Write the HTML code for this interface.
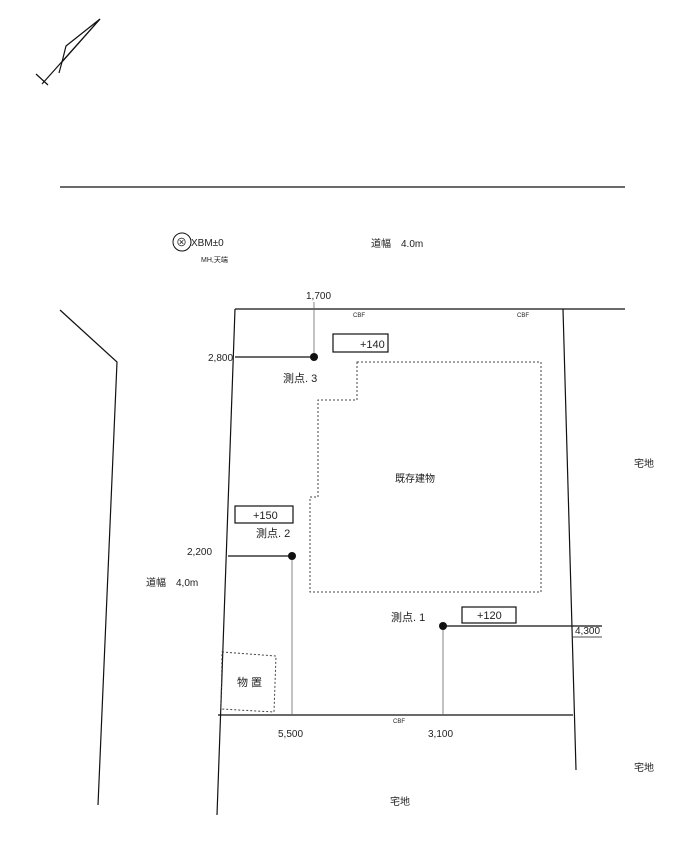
<!DOCTYPE html>
<html><head><meta charset="utf-8"><style>
html,body{margin:0;padding:0;background:#fff;}
svg{display:block;}
text{font-family:"Liberation Sans","Noto Sans CJK JP",sans-serif;fill:#222;}
</style></head><body>
<svg width="698" height="850" viewBox="0 0 698 850" xmlns="http://www.w3.org/2000/svg">
<g stroke="#111" fill="none" stroke-width="1.2">
<!-- north mark -->
<line x1="100" y1="19" x2="42" y2="84"/>
<polyline points="100,19 66,46 62,62 100,19"/>
<line x1="62" y1="62" x2="59" y2="73"/>
<line x1="36" y1="74" x2="48" y2="85"/>
<!-- top line -->
<line x1="60" y1="187" x2="625" y2="187"/>
<!-- left road -->
<polyline points="60,310 117,362 98,805"/>
<!-- site -->
<line x1="235" y1="309" x2="625" y2="309"/>
<line x1="235" y1="309" x2="217" y2="815"/>
<line x1="218" y1="715" x2="573" y2="715"/>
<line x1="563" y1="309" x2="576" y2="770"/>
<!-- dims -->
<line x1="235" y1="357" x2="314" y2="357"/>
<line x1="228" y1="556" x2="292" y2="556"/>
<line x1="443" y1="626" x2="602" y2="626"/>
<line x1="573" y1="637" x2="602" y2="637" stroke-width="0.8"/>
</g>
<g stroke="#666" stroke-width="0.8" fill="none">
<line x1="314" y1="302" x2="314" y2="357"/>
<line x1="292" y1="556" x2="292" y2="715"/>
<line x1="443" y1="626" x2="443" y2="715"/>
</g>
<g stroke="#444" stroke-width="1" fill="none" stroke-dasharray="2,2">
<polygon points="357,362 541,362 541,592 310,592 310,497 318,497 318,400 357,400"/>
<polygon points="222,652 276,656 274,712 221,709"/>
</g>
<g fill="#111">
<circle cx="314" cy="357" r="4"/>
<circle cx="292" cy="556" r="4"/>
<circle cx="443" cy="626" r="4"/>
</g>
<g stroke="#111" stroke-width="1.2" fill="#fff">
<rect x="333" y="334" width="55" height="18"/>
<rect x="235" y="506" width="58" height="17"/>
<rect x="462" y="607" width="54" height="16"/>
</g>
<circle cx="182" cy="242" r="9" fill="none" stroke="#111" stroke-width="1"/>
<text x="176" y="246" font-size="11">⊗</text>
<g font-size="10">
<text x="360" y="348" font-size="11">+140</text>
<text x="253" y="519" font-size="11">+150</text>
<text x="477" y="619" font-size="11">+120</text>
<text x="191" y="246">XBM±0</text>
<text x="201" y="262" font-size="7">MH,天端</text>
<text x="371" y="247">道幅　4.0m</text>
<text x="306" y="299">1,700</text>
<text x="208" y="361">2,800</text>
<text x="283" y="382" font-size="11">測点. 3</text>
<text x="256" y="537" font-size="11">測点. 2</text>
<text x="391" y="621" font-size="11">測点. 1</text>
<text x="187" y="555">2,200</text>
<text x="146" y="586">道幅　4,0m</text>
<text x="395" y="482">既存建物</text>
<text x="634" y="467">宅地</text>
<text x="634" y="771">宅地</text>
<text x="390" y="805">宅地</text>
<text x="575" y="634">4,300</text>
<text x="278" y="737">5,500</text>
<text x="428" y="737">3,100</text>
<text x="237" y="686" font-size="11">物 置</text>
<text x="353" y="317" font-size="6">CBF</text>
<text x="517" y="317" font-size="6">CBF</text>
<text x="393" y="723" font-size="6">CBF</text>
</g>
</svg>
</body></html>
